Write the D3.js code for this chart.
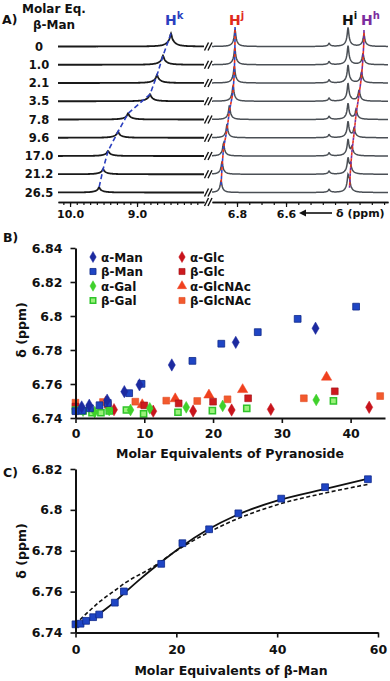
<!DOCTYPE html>
<html><head><meta charset="utf-8">
<script src="https://cdn.jsdelivr.net/npm/d3@7"></script>
<style>
body{margin:0;background:#fff}
svg{display:block}
text{font-family:"DejaVu Sans",sans-serif;font-weight:bold;fill:#111}
</style>
</head><body><svg id="c" width="390" height="681"></svg>
<script>
// ---------- Panel A data (peak positions, ppm, and relative heights) ----------
const eqLabels = ["0","1.0","2.1","3.5","7.8","9.6","17.0","21.2","26.5"];
const hkPpm = [8.493,8.612,8.701,8.806,9.134,9.284,9.433,9.507,9.567];
const hkInt = [13,9,8,7,6,6,5,5,5];
const hjPpm = [6.808,6.809,6.811,6.816,6.831,6.841,6.855,6.861,6.865];
const hjInt = [17,17,17,16,14,13,13,13,12];
const hiPpm = [6.347,6.347,6.347,6.347,6.347,6.347,6.347,6.347,6.347];
const hiInt = [19,19,18,18,16,16,16,15,15];
const hhPpm = [6.282,6.286,6.292,6.302,6.314,6.322,6.331,6.337,6.341];
const hhInt = [12,11,11,11,10,9,8,8,8];
const bumpPpm = [6.4245,6.4245,6.4245,6.4245,6.4245,6.4245,6.4245,6.4245,6.4245];
const bumpInt = [3,3,3,3,3,3,3,3,3];
const aTicksLeft = [10.0, 9.0];
const aTicksRight = [6.8, 6.6];

// ---------- Panel B data ----------
const bSeriesNames = ["α-Man","β-Man","α-Gal","β-Gal","α-Glc","β-Glc","α-GlcNAc","β-GlcNAc"];
const aManPts = [[0.9,6.7465],[2.0,6.7475],[4.6,6.7505],[7.1,6.7555],[9.3,6.7595],[14.0,6.7712],[23.3,6.7845],[34.9,6.7928]];
const aGalPts = [[1.1,6.7443],[2.8,6.7435],[4.9,6.7447],[8.0,6.7447],[10.8,6.7457],[16.1,6.7463],[21.4,6.7471],[35.0,6.7506]];
const bGalPts = [[0,6.7447],[1.1,6.7441],[2.4,6.7431],[3.7,6.7431],[4.9,6.7441],[7.4,6.7447],[9.9,6.7424],[14.9,6.7434],[19.9,6.7443],[24.9,6.7457],[37.5,6.7501]];
const aGlcPts = [[5.6,6.7449],[11.3,6.7440],[17.1,6.7441],[22.7,6.7447],[28.4,6.7451],[42.7,6.7463]];
const bGlcPts = [[0,6.7467],[4.7,6.7478],[10.0,6.7474],[15.0,6.7486],[20.0,6.7496],[25.1,6.7516],[37.7,6.7557]];
const aGlcNAcPts = [[4.4,6.7495],[9.7,6.7478],[14.5,6.7513],[19.4,6.7535],[24.3,6.7567],[36.5,6.7640]];
const bGlcNAcPts = [[0,6.7490],[4.0,6.7494],[8.7,6.7496],[13.2,6.7502],[17.7,6.7500],[22.1,6.7510],[33.2,6.7516],[44.3,6.7529]];
const bXTicks = [0,10,20,30,40];
const bYTicks = [6.74,6.76,6.78,6.80,6.82,6.84];
const bYTickLabels = ["6.74","6.76","6.78","6.8","6.82","6.84"];

// ---------- Panel C data (β-Man titration) ----------
const cEq = [0,1.0,2.1,3.5,4.7,7.8,9.6,17.0,21.2,26.5,32.3,40.8,49.5,58.0];
const cDelta = [6.7440,6.7443,6.7457,6.7475,6.7488,6.7546,6.7601,6.7736,6.7837,6.7905,6.7983,6.8055,6.8111,6.8150];
const fitSolidEq = [0,2,4,6,8,10,13,17,21,26,32,40,50,58];
const fitSolidDelta = [6.7440,6.7455,6.7480,6.7515,6.7555,6.7600,6.7665,6.7745,6.7820,6.7900,6.7975,6.8045,6.8105,6.8152];
const fitDashEq = [0,1,2.5,5,7.5,10,15,20,26,32,40,50,58];
const fitDashDelta = [6.7440,6.7465,6.7500,6.7555,6.7600,6.7645,6.7715,6.7800,6.7885,6.7955,6.8025,6.8085,6.8125];
const cXTicks = [0,20,40,60];
const cYTicks = [6.74,6.76,6.78,6.80,6.82];
const cYTickLabels = ["6.74","6.76","6.78","6.8","6.82"];

// ===================================================================
const svg = d3.select("#c");
const lor = (x,x0,w)=> w*w/((x-x0)*(x-x0)+w*w);

// ---------------- Panel A ----------------
const gA = svg.append("g");
gA.append("text").attr("x",2).attr("y",24).attr("font-size",12.5).text("A)");
gA.append("text").attr("x",22).attr("y",13).attr("font-size",12).text("Molar Eq.");
gA.append("text").attr("x",33).attr("y",29).attr("font-size",12).text("β-Man");

const xL = d3.scaleLinear().domain([10.18,8.0]).range([58,204]);
const xR = d3.scaleLinear().domain([6.902,6.184]).range([212,388]);
const rowY = d3.scalePoint().domain(eqLabels).range([46.5,192.5]);
const amp = d3.scaleLinear().domain([0,20]).range([0,20]);
const line = d3.line();

eqLabels.forEach((lab,i)=>{
  const y0 = rowY(lab);
  gA.append("text").attr("x",39).attr("y",y0+4).attr("text-anchor","middle").attr("font-size",11.5).text(lab);
  const left = d3.range(58,204.01,0.5).map(px=>{
    const p = xL.invert(px);
    const v = hkInt[i]*(0.55*lor(p,hkPpm[i],0.016)+0.45*lor(p,hkPpm[i],0.07));
    return [px, y0-amp(v)];
  });
  gA.append("path").attr("d",line(left)).attr("fill","none").attr("stroke","#1a1a1a").attr("stroke-width",1.8);
  const peaks = [[hjPpm[i],hjInt[i]],[hiPpm[i],hiInt[i]],[hhPpm[i],hhInt[i]],[bumpPpm[i],bumpInt[i]]];
  const right = d3.range(212,388.01,0.4).map(px=>{
    const p = xR.invert(px);
    let v = 0;
    peaks.forEach(([c,h])=>{ v += h*(0.7*lor(p,c,0.0035)+0.3*lor(p,c,0.012)); });
    return [px, y0-amp(v)];
  });
  gA.append("path").attr("d",line(right)).attr("fill","none").attr("stroke","#4a4f55").attr("stroke-width",1.5);
  [204.5,208].forEach(bx=>{
    gA.append("line").attr("x1",bx).attr("y1",y0+4).attr("x2",bx+4).attr("y2",y0-4)
      .attr("stroke","#111").attr("stroke-width",1.4);
  });
});

// traces
const hkTrace = eqLabels.map((l,i)=>[xL(hkPpm[i]), rowY(l)-amp(hkInt[i])]);
gA.append("path").attr("d",line(hkTrace)).attr("fill","none").attr("stroke","#2b3fbf")
  .attr("stroke-width",1.6).attr("stroke-dasharray","5,3");
const hjTrace = [[xR(hjPpm[0]),27]].concat(eqLabels.map((l,i)=>[xR(hjPpm[i]), rowY(l)-amp(hjInt[i])*0.6]));
gA.append("path").attr("d",line(hjTrace)).attr("fill","none").attr("stroke","#3347c8")
  .attr("stroke-width",1.6).attr("stroke-dasharray","3,3");
gA.append("path").attr("d",line(hjTrace)).attr("fill","none").attr("stroke","#e8321e")
  .attr("stroke-width",1.6).attr("stroke-dasharray","3,3").attr("stroke-dashoffset",3);
const hhTrace = [[xR(hhPpm[0]),30]].concat(eqLabels.map((l,i)=>[xR(hhPpm[i]), rowY(l)-amp(hhInt[i])*0.6]));
gA.append("path").attr("d",line(hhTrace)).attr("fill","none").attr("stroke","#7b2d9e")
  .attr("stroke-width",1.6).attr("stroke-dasharray","3,3");
gA.append("path").attr("d",line(hhTrace)).attr("fill","none").attr("stroke","#e8321e")
  .attr("stroke-width",1.6).attr("stroke-dasharray","3,3").attr("stroke-dashoffset",3);

// peak labels
function hLabel(x,sup,color){
  const t = gA.append("text").attr("x",x).attr("y",25).attr("font-size",14).style("fill",color);
  t.append("tspan").text("H");
  t.append("tspan").attr("dy",-6).attr("font-size",10).text(sup);
}
hLabel(165,"k","#2b3fbf");
hLabel(229,"j","#e02a1e");
hLabel(342,"i","#111");
hLabel(361,"h","#7b2d9e");

// axis A
const axY = 202;
const gAxL = gA.append("g").attr("transform",`translate(0,${axY})`);
gAxL.call(d3.axisBottom(xL).tickValues(d3.range(10.1,8.05,-0.1)).tickSize(3).tickSizeOuter(0).tickFormat(""));
gAxL.call(g=>g.append("g").call(d3.axisBottom(xL).tickValues(aTicksLeft).tickSize(5).tickSizeOuter(0).tickFormat(d3.format(".1f"))));
const gAxR = gA.append("g").attr("transform",`translate(0,${axY})`);
gAxR.call(d3.axisBottom(xR).tickValues(d3.range(6.85,6.19,-0.05)).tickSize(3).tickSizeOuter(0).tickFormat(""));
gAxR.call(g=>g.append("g").call(d3.axisBottom(xR).tickValues(aTicksRight).tickSize(5).tickSizeOuter(0).tickFormat(d3.format(".1f"))));
[gAxL,gAxR].forEach(g=>{
  g.selectAll("path.domain").attr("stroke","#111").attr("stroke-width",1.6);
  g.selectAll(".tick line").attr("stroke","#111").attr("stroke-width",1.2);
  g.selectAll("text").attr("font-size",11).attr("font-family","DejaVu Sans").attr("font-weight","bold").style("fill","#111");
});
[204.5,208].forEach(bx=>{
  gA.append("line").attr("x1",bx).attr("y1",axY+4).attr("x2",bx+4).attr("y2",axY-4).attr("stroke","#111").attr("stroke-width",1.4);
});
gA.append("line").attr("x1",303).attr("y1",213).attr("x2",332).attr("y2",213).attr("stroke","#111").attr("stroke-width",1.6);
gA.append("path").attr("d","M299,213 L306,209.5 L306,216.5 Z").attr("fill","#111");
gA.append("text").attr("x",336).attr("y",217).attr("font-size",11).text("δ (ppm)");

// ---------------- Panel B ----------------
const gB = svg.append("g");
gB.append("text").attr("x",3).attr("y",242).attr("font-size",12.5).text("B)");
const xB = d3.scaleLinear().domain([0,45]).range([75.5,385]);
const yB = d3.scaleLinear().domain([6.74,6.84]).range([418,248]);

const styles = {
  "α-Man":   {type:d3.symbolDiamond, size:44, fill:"#1c2aa0", stroke:"#1c2aa0", sw:0.5, pts:aManPts},
  "β-Man":   {type:d3.symbolSquare,  size:46, fill:"#1f45c4", stroke:"#0f2a8a", sw:0.8, pts:cEq.map((x,i)=>[x,cDelta[i]]).filter(d=>d[0]<=45)},
  "α-Gal":   {type:d3.symbolDiamond, size:40, fill:"#3fd12b", stroke:"#3fd12b", sw:0.5, pts:aGalPts},
  "β-Gal":   {type:d3.symbolSquare,  size:38, fill:"#9af27a", stroke:"#2fc42a", sw:1.5, pts:bGalPts},
  "α-Glc":   {type:d3.symbolDiamond, size:44, fill:"#c8141c", stroke:"#c8141c", sw:0.5, pts:aGlcPts},
  "β-Glc":   {type:d3.symbolSquare,  size:46, fill:"#cc1a1e", stroke:"#a01015", sw:0.6, pts:bGlcPts},
  "α-GlcNAc":{type:d3.symbolTriangle,size:46, fill:"#f0401e", stroke:"#f0401e", sw:0.5, pts:aGlcNAcPts},
  "β-GlcNAc":{type:d3.symbolSquare,  size:46, fill:"#f25a2e", stroke:"#e04a22", sw:0.6, pts:bGlcNAcPts}
};
const drawOrder = ["α-GlcNAc","β-GlcNAc","β-Glc","α-Glc","β-Gal","α-Gal","β-Man","α-Man"];
drawOrder.forEach(name=>{
  const s = styles[name];
  gB.append("g").selectAll("path").data(s.pts).join("path")
    .attr("d",d3.symbol().type(s.type).size(s.size))
    .attr("transform",d=>`translate(${xB(d[0])},${yB(d[1])})`)
    .attr("fill",s.fill).attr("stroke",s.stroke).attr("stroke-width",s.sw);
});
// legend
const legY = [257,271.5,286,300.5];
const legCol0 = ["α-Man","β-Man","α-Gal","β-Gal"];
const legCol1 = ["α-Glc","β-Glc","α-GlcNAc","β-GlcNAc"];
bSeriesNames.forEach(name=>{
  const col = legCol0.indexOf(name)>=0 ? 0 : 1;
  const row = col===0 ? legCol0.indexOf(name) : legCol1.indexOf(name);
  const mx = col===0 ? 93 : 182, y = legY[row];
  const s = styles[name];
  gB.append("path").attr("d",d3.symbol().type(s.type).size(s.size*0.8)).attr("transform",`translate(${mx},${y})`)
    .attr("fill",s.fill).attr("stroke",s.stroke).attr("stroke-width",s.sw);
  gB.append("text").attr("x",mx+8).attr("y",y+4.5).attr("font-size",12).text(name);
});
// axes B
const gBy = gB.append("g").attr("transform","translate(75.5,0)")
  .call(d3.axisLeft(yB).tickValues(bYTicks).tickFormat((d,i)=>bYTickLabels[i]).tickSize(5).tickPadding(8).tickSizeOuter(0));
const gBx = gB.append("g").attr("transform","translate(0,418)")
  .call(d3.axisBottom(xB).tickValues(bXTicks).tickFormat(d3.format("d")).tickSize(5).tickPadding(6).tickSizeOuter(0));
gB.append("text").attr("x",230).attr("y",458).attr("text-anchor","middle").attr("font-size",12.5).text("Molar Equivalents of Pyranoside");
gB.append("text").attr("transform","translate(26,330) rotate(-90)").attr("text-anchor","middle").attr("font-size",12.5).text("δ (ppm)");

// ---------------- Panel C ----------------
const gC = svg.append("g");
gC.append("text").attr("x",3).attr("y",477).attr("font-size",12.5).text("C)");
const xC = d3.scaleLinear().domain([0,60]).range([75.5,378]);
const yC = d3.scaleLinear().domain([6.74,6.82]).range([632.5,469]);
gC.append("path").attr("d",d3.line().x(d=>xC(d[0])).y(d=>yC(d[1])).curve(d3.curveMonotoneX)(fitDashEq.map((x,i)=>[x,fitDashDelta[i]])))
  .attr("fill","none").attr("stroke","#111").attr("stroke-width",1.6).attr("stroke-dasharray","4,2.5");
gC.append("path").attr("d",d3.line().x(d=>xC(d[0])).y(d=>yC(d[1])).curve(d3.curveMonotoneX)(fitSolidEq.map((x,i)=>[x,fitSolidDelta[i]])))
  .attr("fill","none").attr("stroke","#111").attr("stroke-width",1.8);
gC.append("g").selectAll("path").data(cEq.map((x,i)=>[x,cDelta[i]])).join("path")
  .attr("d",d3.symbol().type(d3.symbolSquare).size(46))
  .attr("transform",d=>`translate(${xC(d[0])},${yC(d[1])})`)
  .attr("fill","#1f45c4").attr("stroke","#0f2a8a").attr("stroke-width",0.8);
const gCy = gC.append("g").attr("transform","translate(75.5,0)")
  .call(d3.axisLeft(yC).tickValues(cYTicks).tickFormat((d,i)=>cYTickLabels[i]).tickSize(5).tickPadding(8).tickSizeOuter(0));
const gCx = gC.append("g").attr("transform","translate(0,632.5)")
  .call(d3.axisBottom(xC).tickValues(cXTicks).tickFormat(d3.format("d")).tickSize(5).tickPadding(8).tickSizeOuter(0));
gC.append("text").attr("x",231).attr("y",675).attr("text-anchor","middle").attr("font-size",12.5).text("Molar Equivalents of β-Man");
gC.append("text").attr("transform","translate(26,551) rotate(-90)").attr("text-anchor","middle").attr("font-size",12.5).text("δ (ppm)");

[gBy,gBx,gCy,gCx].forEach(g=>{
  g.selectAll("path.domain").attr("stroke","#111").attr("stroke-width",2);
  g.selectAll(".tick line").attr("stroke","#111").attr("stroke-width",1.6);
  g.selectAll("text").attr("font-size",12.5).attr("font-family","DejaVu Sans").attr("font-weight","bold").style("fill","#111");
});
</script>
</body></html>
